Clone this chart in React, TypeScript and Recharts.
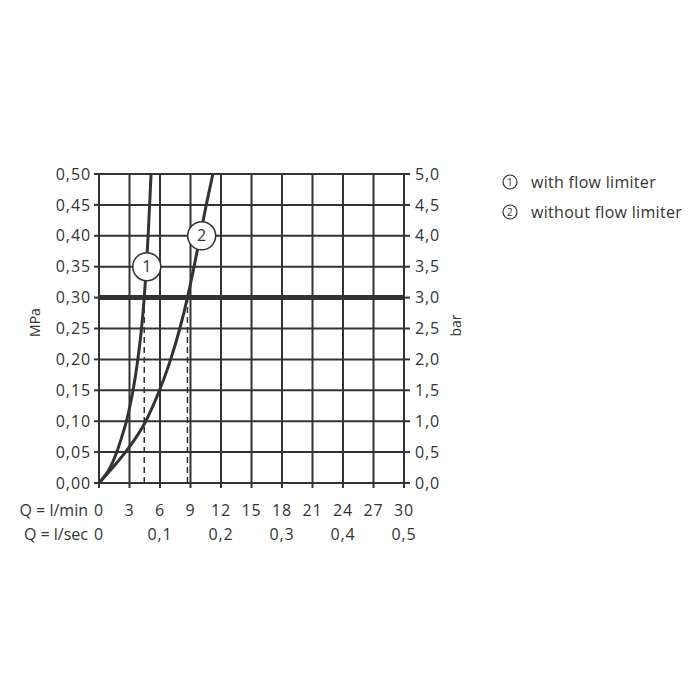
import {
    CartesianGrid,
    Line,
    LineChart,
    ReferenceDot,
    ReferenceLine,
    XAxis,
    YAxis,
} from 'recharts';

// flow (l/min) and pressure (MPa)
const withLimiterQ = [0, 1.1, 1.75, 2.25, 2.7, 3.05, 3.35, 3.82, 4.18, 4.45, 4.66, 4.83, 4.98, 5.12];
const withLimiterP = [0, 0.025, 0.05, 0.075, 0.1, 0.125, 0.15, 0.2, 0.25, 0.3, 0.35, 0.4, 0.45, 0.5];
const withoutLimiterQ = [0, 1.35, 2.6, 4.6, 5.95, 7.05, 7.95, 8.7, 9.35, 9.95, 10.55, 11.2];
const withoutLimiterP = [0, 0.025, 0.05, 0.1, 0.15, 0.2, 0.25, 0.3, 0.35, 0.4, 0.45, 0.5];

const seriesNames = ['with flow limiter', 'without flow limiter'];
const labelPos = [
    { q: 4.7, p: 0.35 },
    { q: 10.1, p: 0.4 },
];
const operatingPressure = 0.3;
const operatingFlows = [4.45, 8.7];

const flowTicks = [0, 3, 6, 9, 12, 15, 18, 21, 24, 27, 30];
const pressureTicks = [0, 0.05, 0.1, 0.15, 0.2, 0.25, 0.3, 0.35, 0.4, 0.45, 0.5];
const barTicks = [0, 0.5, 1, 1.5, 2, 2.5, 3, 3.5, 4, 4.5, 5];

const withLimiter = withLimiterQ.map((q, i) => ({ q, p: withLimiterP[i], bar: withLimiterP[i] * 10 }));
const withoutLimiter = withoutLimiterQ.map((q, i) => ({ q, p: withoutLimiterP[i] }));

const ink = '#333';
const font = '"Open Sans", sans-serif';
const comma = (v: number, d: number) => v.toFixed(d).replace('.', ',');
const tickStyle = { fill: ink, fontSize: 16, fontFamily: font, letterSpacing: 0.9 };

function FlowTick({ x, y, payload }: any) {
    const v = payload.value as number;
    return (
        <g fill={ink} fontSize={16} fontFamily={font} letterSpacing={0.9}>
            <text x={x} y={y + 26} textAnchor="middle">{v}</text>
            {v % 6 === 0 && (
                <text x={x} y={y + 50} textAnchor="middle">
                    {v === 0 ? '0' : comma(v / 60, 1)}
                </text>
            )}
            {v === 0 && (
                <g letterSpacing={0}>
                    <text x={x - 11} y={y + 26} textAnchor="end">Q = l/min</text>
                    <text x={x - 11} y={y + 50} textAnchor="end">Q = l/sec</text>
                </g>
            )}
        </g>
    );
}

function Badge({ n }: { n: number }) {
    return (
        <svg width={16} height={16} style={{ verticalAlign: 'middle', marginRight: 13, marginTop: -3 }}>
            <circle cx={8} cy={8} r={7} fill="none" stroke={ink} strokeWidth={1.2} />
            <text x={8} y={12} textAnchor="middle" fontSize={10} fill={ink} fontFamily={font}>{n}</text>
        </svg>
    );
}

export default function App() {
    return (
        <div style={{ position: 'absolute', left: 0, top: 0, width: 700, height: 700, background: '#fff', fontFamily: font }}>
            <LineChart
                width={700}
                height={700}
                margin={{ top: 174, right: 236, left: 20, bottom: 157 }}
            >
                <CartesianGrid yAxisId="mpa" stroke={ink} strokeWidth={2} />
                <XAxis
                    dataKey="q"
                    type="number"
                    domain={[0, 30]}
                    ticks={flowTicks}
                    interval={0}
                    tick={<FlowTick />}
                    tickSize={5}
                    height={60}
                    stroke={ink}
                    strokeWidth={2}
                />
                <YAxis
                    yAxisId="mpa"
                    type="number"
                    domain={[0, 0.5]}
                    ticks={pressureTicks}
                    interval={0}
                    tickFormatter={(v) => comma(v, 2)}
                    tick={tickStyle}
                    tickSize={5}
                    tickMargin={3}
                    width={79}
                    stroke={ink}
                    strokeWidth={2}
                    label={{ value: 'MPa', angle: -90, position: 'insideLeft', offset: 15, dy: -6, fill: ink, fontSize: 14, style: { textAnchor: 'middle' } }}
                />
                <YAxis
                    yAxisId="bar"
                    orientation="right"
                    type="number"
                    domain={[0, 5]}
                    ticks={barTicks}
                    interval={0}
                    tickFormatter={(v) => comma(v, 1)}
                    tick={tickStyle}
                    tickSize={6}
                    tickMargin={5}
                    width={60}
                    stroke={ink}
                    strokeWidth={2}
                    label={{ value: 'bar', angle: -90, position: 'insideRight', offset: 8, dy: -3, fill: ink, fontSize: 14, style: { textAnchor: 'middle' } }}
                />
                <ReferenceLine yAxisId="mpa" y={operatingPressure} stroke={ink} strokeWidth={5} />
                {operatingFlows.map((q) => (
                    <ReferenceLine
                        key={q}
                        yAxisId="mpa"
                        segment={[{ x: q, y: 0 }, { x: q, y: operatingPressure }]}
                        stroke={ink}
                        strokeWidth={1.5}
                        strokeDasharray="6 4"
                    />
                ))}
                {/* same curve in bar units, keeps the right axis bound to data */}
                <Line yAxisId="bar" data={withLimiter} dataKey="bar" type="monotone" stroke="none" dot={false} isAnimationActive={false} />
                <Line yAxisId="mpa" data={withLimiter} dataKey="p" name={seriesNames[0]} type="monotone" stroke={ink} strokeWidth={3} dot={false} isAnimationActive={false} />
                <Line yAxisId="mpa" data={withoutLimiter} dataKey="p" name={seriesNames[1]} type="monotone" stroke={ink} strokeWidth={3} dot={false} isAnimationActive={false} />
                {labelPos.map((l, i) => (
                    <ReferenceDot
                        key={i}
                        yAxisId="mpa"
                        x={l.q}
                        y={l.p}
                        r={14}
                        fill="#fff"
                        stroke={ink}
                        strokeWidth={1.5}
                        label={{ value: String(i + 1), position: 'center', fill: ink, fontSize: 16 }}
                    />
                ))}
            </LineChart>
            <div style={{ position: 'absolute', left: 502, top: 167, color: ink, fontSize: 16, lineHeight: '30px', letterSpacing: 0.3 }}>
                {seriesNames.map((n, i) => (
                    <div key={n}>
                        <Badge n={i + 1} />
                        {n}
                    </div>
                ))}
            </div>
        </div>
    );
}
